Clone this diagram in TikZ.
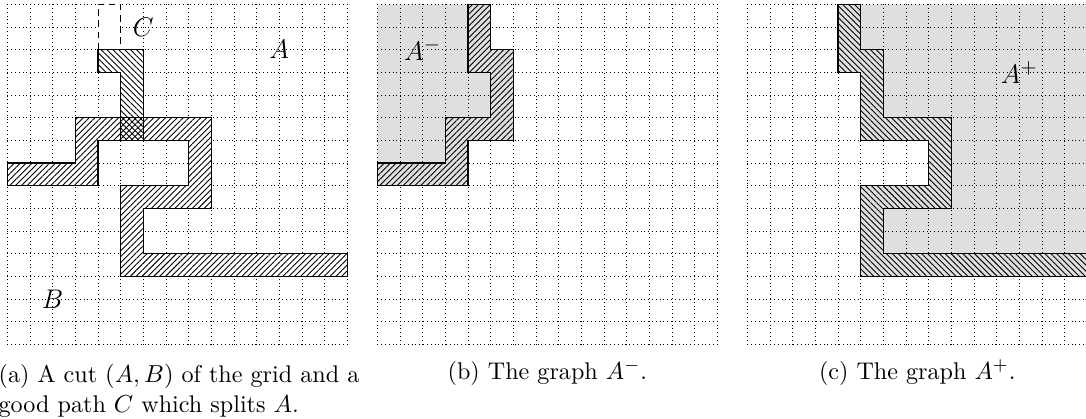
\documentclass[tikz,border=0pt]{standalone}
\usetikzlibrary{patterns.meta}

\begin{document}
\begin{tikzpicture}[x=0.355cm, y=0.355cm,
  gridlines/.style={line width=0.3pt, dash pattern=on 0.3pt off 1.4pt},
  nelines/.style={pattern={Lines[angle=45, distance=1.85pt, line width=0.4pt]}},
  nwlines/.style={pattern={Lines[angle=-45, distance=1.85pt, line width=0.4pt]}},
  band/.style={draw, line width=0.5pt},
  region/.style={fill=gray!25},
  lbl/.style={font=\fontsize{12.9}{15.5}\selectfont},
  captext/.style={font=\fontsize{10.75}{12.95}\selectfont}]

\useasboundingbox (-0.322,-3.264) rectangle (47.58,15.19);

% (a) the cut and the path C
\begin{scope}
\draw[gridlines, step=1] (0,0) grid (15,15);
\fill[white] (4,13) rectangle (5,15);
\draw[dash pattern=on 3pt off 2pt, line width=0.4pt] (4,13) -- (4,15) -- (5,15) -- (5,13);
\fill[white] (4,13) -- (6,13) -- (6,9) -- (5,9) -- (5,12) -- (4,12) -- cycle;
\draw[band, fill=white, postaction={nelines}] (0,7) -- (4,7) -- (4,9) -- (8,9) -- (8,7) -- (5,7) -- (5,3) -- (15,3) -- (15,4) -- (6,4) -- (6,6) -- (9,6) -- (9,10) -- (3,10) -- (3,8) -- (0,8) -- cycle;
\draw[band, nwlines] (4,13) -- (6,13) -- (6,9) -- (5,9) -- (5,12) -- (4,12) -- cycle;
\node[lbl] (C) at (6,14) {$C$};
\node[lbl] (A) at (12,13) {$A$};
\node[lbl] (B) at (2,2) {$B$};
\node[captext, anchor=north west, align=left, inner sep=0] (capa) at (-0.4,-0.87)
  {(a) A cut $(A,B)$ of the grid and a\\ good path $C$ which splits $A$.};
\end{scope}

% (b) the graph A^-
\begin{scope}[shift={(16.32,0)}]
\fill[region] (0,15) -- (5,15) -- (5,13) -- (6,13) -- (6,9) -- (4,9) -- (4,7) -- (0,7) -- cycle;
\draw[gridlines, step=1] (0,0) grid (15,15);
\draw[band, region, postaction={nelines}] (4,15) -- (5,15) -- (5,13) -- (6,13) -- (6,9) -- (4,9) -- (4,7) -- (0,7) -- (0,8) -- (3,8) -- (3,10) -- (5,10) -- (5,12) -- (4,12) -- cycle;
\node[lbl] (Aminus) at (2,13) {$A^-$};
\node[captext, anchor=base] (capb) at (7.5,-1.56) {(b) The graph $A^-$.};
\end{scope}

% (c) the graph A^+
\begin{scope}[shift={(32.64,0)}]
\fill[region] (4,15) -- (15,15) -- (15,3) -- (5,3) -- (5,7) -- (8,7) -- (8,9) -- (5,9) -- (5,12) -- (4,12) -- cycle;
\draw[gridlines, step=1] (0,0) grid (15,15);
\draw[band, region, postaction={nwlines}] (4,15) -- (5,15) -- (5,13) -- (6,13) -- (6,10) -- (9,10) -- (9,6) -- (6,6) -- (6,4) -- (15,4) -- (15,3) -- (5,3) -- (5,7) -- (8,7) -- (8,9) -- (5,9) -- (5,12) -- (4,12) -- cycle;
\node[lbl] (Aplus) at (12,12) {$A^+$};
\node[captext, anchor=base] (capc) at (7.5,-1.56) {(c) The graph $A^+$.};
\end{scope}
\end{tikzpicture}
\end{document}
